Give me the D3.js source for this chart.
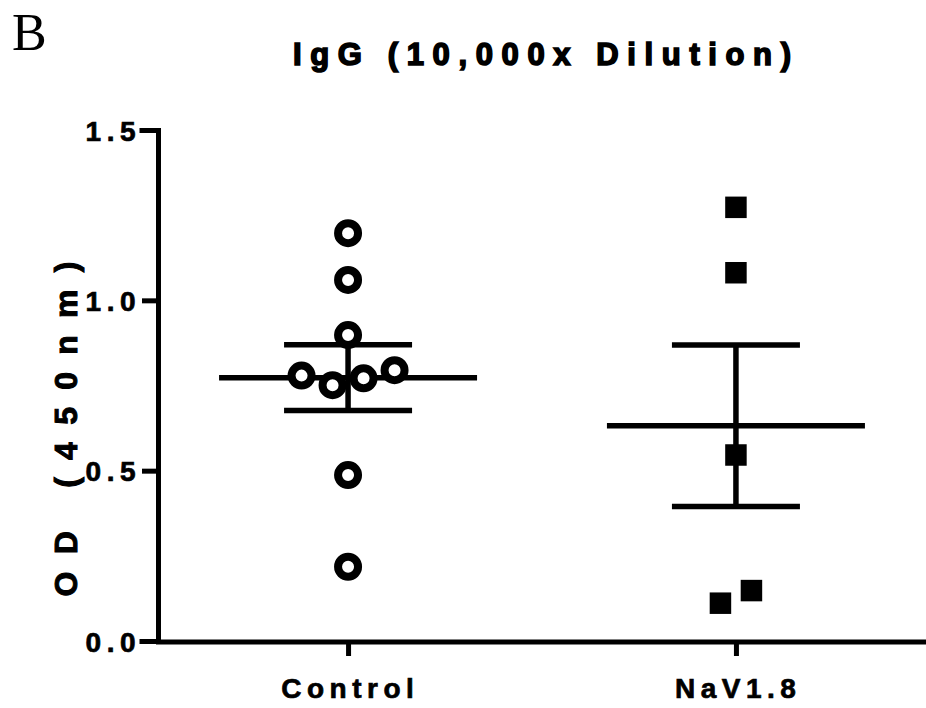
<!DOCTYPE html>
<html>
<head>
<meta charset="utf-8">
<script src="https://cdn.jsdelivr.net/npm/d3@7"></script>
<style>
  html, body { margin: 0; padding: 0; background: #fff; }
  svg { display: block; }
  text.sans { font-family: "Liberation Sans", Arial, sans-serif; font-weight: bold; fill: #000; stroke: #000; stroke-width: 0.7px; }
</style>
</head>
<body>
<svg id="chart" width="926" height="708"></svg>
<script>
// ---- data ----
const categories = ["Control", "NaV1.8"];
const controlValues = [1.197, 1.060, 0.898, 0.779, 0.751, 0.771, 0.795, 0.487, 0.218];
const navValues = [1.273, 1.081, 0.546, 0.111, 0.148];
const yTicks = [0.0, 0.5, 1.0, 1.5];
const titleText = "IgG (10,000x Dilution)";
const yLabelText = "OD (450nm)";
const panelLabel = "B";

const svg = d3.select("#chart");

const x = d3.scalePoint().domain(categories).range([158, 926]).padding(0.49);
const y = d3.scaleLinear().domain([0, 1.5]).range([641, 130]);

const LS = 5.5; // letter spacing for axis texts

// panel label
svg.append("text").attr("x", 12).attr("y", 50)
  .style("font-family", "'Liberation Serif', 'Times New Roman', serif")
  .style("font-size", "52px").text(panelLabel);

// title
svg.append("text").attr("class", "sans").attr("x", 542).attr("y", 65)
  .attr("text-anchor", "middle")
  .attr("textLength", 498).attr("lengthAdjust", "spacing")
  .style("font-size", "31px").style("stroke-width", "1.6px")
  .text(titleText);

// y axis
const yAxis = d3.axisLeft(y).tickValues(yTicks).tickFormat(d3.format(".1f"))
  .tickSizeOuter(0).tickSize(16);
const gy = svg.append("g").attr("transform", "translate(158,0)").call(yAxis);
gy.select(".domain").attr("stroke-width", 5).attr("stroke-linecap", "square");
gy.selectAll(".tick line").attr("stroke-width", 5);
gy.selectAll(".tick text").attr("class", "sans").style("font-size", "28px").style("letter-spacing", LS + "px")
  .attr("x", -17).attr("dy", "0.36em");

// x axis
const xAxis = d3.axisBottom(x).tickSizeOuter(0).tickSize(14).tickPadding(22);
const gx = svg.append("g").attr("transform", "translate(0,642)").call(xAxis);
gx.select(".domain").attr("d", "M156,0H926").attr("stroke-width", 5);
gx.selectAll(".tick line").attr("stroke-width", 5);
gx.selectAll(".tick text").attr("class", "sans").style("font-size", "28px").style("letter-spacing", LS + "px")
  .attr("dx", LS / 2 - 1);

// y label
svg.append("text").attr("class", "sans")
  .attr("transform", "translate(77,429) rotate(-90)")
  .attr("text-anchor", "middle")
  .attr("textLength", 335).attr("lengthAdjust", "spacing")
  .style("font-size", "32px").style("stroke-width", "1px")
  .text(yLabelText);

// ---- summary stats ----
const groups = [
  { name: categories[0], values: controlValues, shape: "circle" },
  { name: categories[1], values: navValues, shape: "square" }
];
const meanHalf = 129, capHalf = 64, lw = 5.5;

groups.forEach(g => {
  const m = d3.mean(g.values);
  const sem = d3.deviation(g.values) / Math.sqrt(g.values.length);
  const cx = x(g.name);
  const lg = svg.append("g").attr("stroke", "#000").attr("stroke-width", lw);
  lg.append("line").attr("x1", cx - meanHalf).attr("x2", cx + meanHalf).attr("y1", y(m)).attr("y2", y(m));
  lg.append("line").attr("x1", cx).attr("x2", cx).attr("y1", y(m + sem)).attr("y2", y(m - sem));
  lg.append("line").attr("x1", cx - capHalf).attr("x2", cx + capHalf).attr("y1", y(m + sem)).attr("y2", y(m + sem));
  lg.append("line").attr("x1", cx - capHalf).attr("x2", cx + capHalf).attr("y1", y(m - sem)).attr("y2", y(m - sem));
});

// ---- points with simple column-scatter spreading ----
function spread(values, thresh, spacing) {
  const idx = values.map((v, i) => i).sort((a, b) => values[b] - values[a]);
  const offs = new Array(values.length).fill(0);
  let cluster = [];
  const flush = () => {
    const ordered = cluster.slice().sort((a, b) => a - b);
    ordered.forEach((k, j) => { offs[k] = (j - (ordered.length - 1) / 2) * spacing; });
    cluster = [];
  };
  idx.forEach(i => {
    if (cluster.length && Math.abs(y(values[i]) - y(values[cluster[0]])) >= thresh) flush();
    cluster.push(i);
  });
  if (cluster.length) flush();
  return offs;
}

groups.forEach(g => {
  const offs = spread(g.values, 28, 31);
  const cx = x(g.name);
  const pg = svg.append("g");
  g.values.forEach((v, i) => {
    if (g.shape === "circle") {
      pg.append("circle").attr("cx", cx + offs[i]).attr("cy", y(v)).attr("r", 10)
        .attr("fill", "#fff").attr("stroke", "#000").attr("stroke-width", 8);
    } else {
      pg.append("path").attr("d", d3.symbol(d3.symbolSquare, 21.5 * 21.5)())
        .attr("transform", `translate(${cx + offs[i]},${y(v)})`).attr("fill", "#000");
    }
  });
});
</script>
</body>
</html>
